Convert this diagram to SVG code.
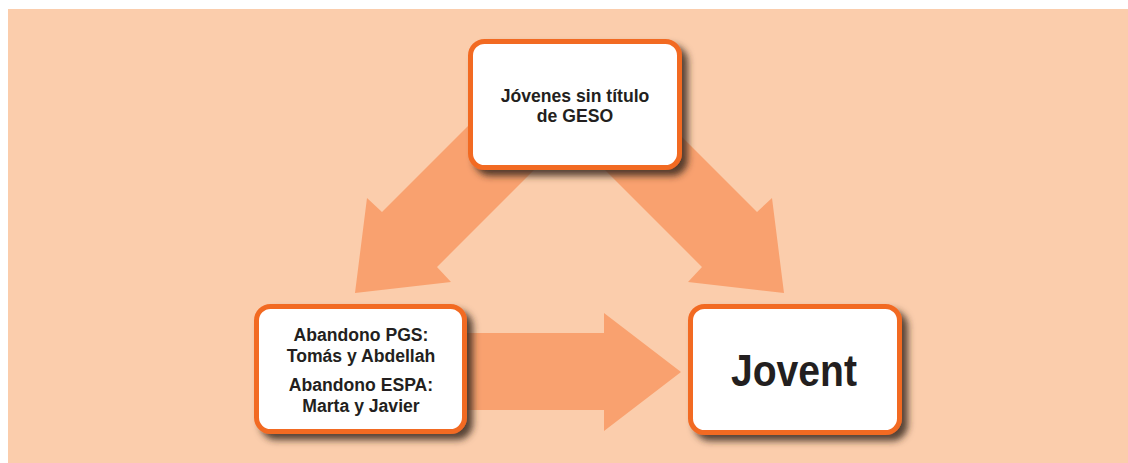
<svg xmlns="http://www.w3.org/2000/svg" width="1128" height="463" viewBox="0 0 1128 463">
  <defs>
    <filter id="sh" x="-20%" y="-20%" width="150%" height="150%">
      <feDropShadow dx="6" dy="6" stdDeviation="3.5" flood-color="#3a2a22" flood-opacity="0.85"/>
    </filter>
  </defs>
  <style>
    .bg { fill: #FBCDAC; }
    .arrow { fill: #F9A16F; }
    .box { fill: #FFFFFF; stroke: #F26A24; stroke-width: 5; }
    .t { font-family: "Liberation Sans", Arial, sans-serif; font-weight: bold; fill: #231F20; text-anchor: middle; }
    .small { font-size: 17.6px; }
    .big { font-size: 45px; }
  </style>
  <rect class="bg" x="8" y="9" width="1120" height="454"/>
  <g id="connectors">
    <polygon class="arrow" points="355,293 367,198 382,212 520,74 575,129 437,267 451,282"/>
    <polygon class="arrow" points="784,293 772,198 757,212 619,74 564,129 702,267 688,282"/>
    <polygon class="arrow" points="400,333 604,333 604,313 681,372 604,431 604,410 400,410"/>
  </g>
  <g id="node-top">
    <rect class="box" x="470.5" y="41.5" width="209" height="126" rx="14" filter="url(#sh)"/>
    <text class="t small" x="575" y="102">Jóvenes sin título</text>
    <text class="t small" x="575" y="122">de GESO</text>
  </g>
  <g id="node-left">
    <rect class="box" x="256.5" y="306.5" width="208" height="125" rx="14" filter="url(#sh)"/>
    <text class="t small" x="361" y="341">Abandono PGS:</text>
    <text class="t small" x="361" y="362">Tomás y Abdellah</text>
    <text class="t small" x="361" y="391">Abandono ESPA:</text>
    <text class="t small" x="361" y="412">Marta y Javier</text>
  </g>
  <g id="node-jovent">
    <rect class="box" x="690.5" y="306.5" width="209" height="126" rx="14" filter="url(#sh)"/>
    <text class="t big" x="794" y="386" textLength="126" lengthAdjust="spacingAndGlyphs">Jovent</text>
  </g>
</svg>
